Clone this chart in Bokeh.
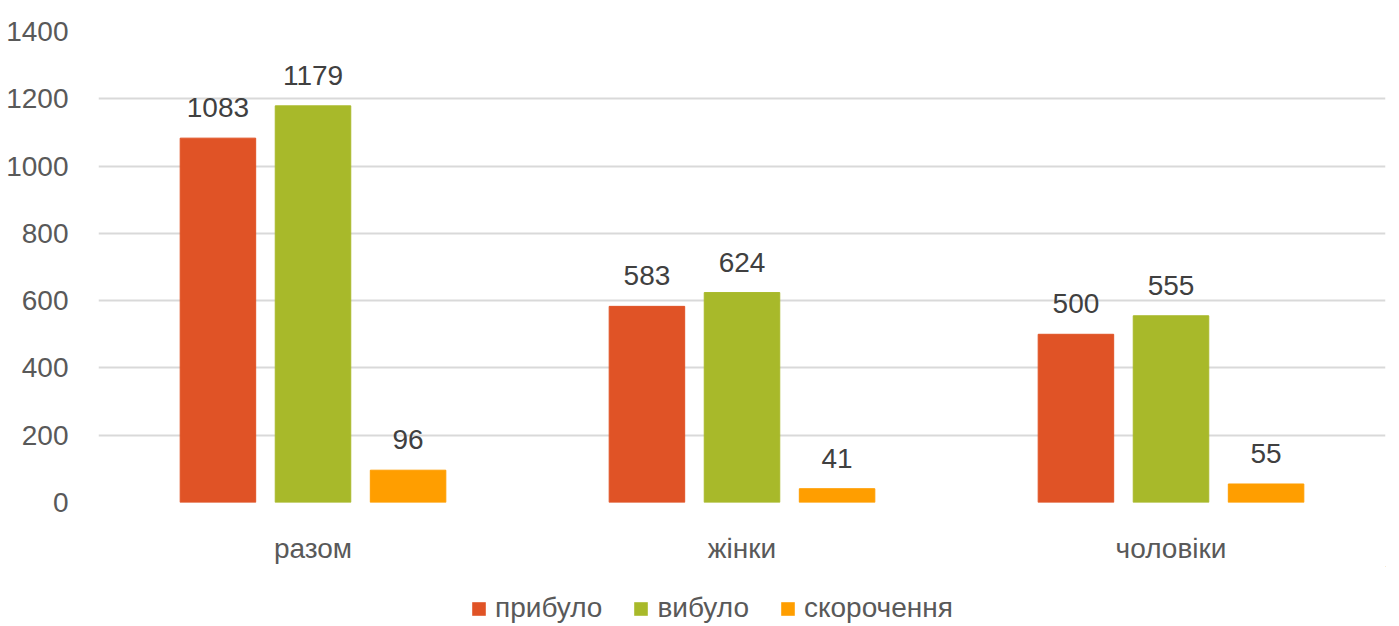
from bokeh.plotting import figure
from bokeh.layouts import column
from bokeh.models import ColumnDataSource, FactorRange, Range1d, Legend, LegendItem, SingleIntervalTicker
from bokeh.transform import dodge
from bokeh.core.properties import value
from bokeh.embed import file_html
from bokeh.resources import INLINE

categories = ["разом", "жінки", "чоловіки"]
series_names = ["прибуло", "вибуло", "скорочення"]
arrived = [1083, 583, 500]
left = [1179, 624, 555]
reduction = [96, 41, 55]
colors = ["#E05326", "#A8B92A", "#FF9E00"]

FONT = "Liberation Sans"
TXT = "#595959"
FS = "28px"

src = ColumnDataSource(dict(cat=categories, a=arrived, b=left, c=reduction,
                            la=[str(v) for v in arrived], lb=[str(v) for v in left],
                            lc=[str(v) for v in reduction]))

p = figure(x_range=FactorRange(*categories, range_padding=0), y_range=Range1d(0, 1400),
           width=1399, height=566, output_backend="svg", toolbar_location=None,
           min_border_left=98, min_border_right=14, min_border_top=31, min_border_bottom=64)
p.outline_line_color = None

for key, lab, off, col in [("a", "la", -0.2216, colors[0]), ("b", "lb", 0.0, colors[1]), ("c", "lc", 0.2216, colors[2])]:
    p.vbar(x=dodge("cat", off, range=p.x_range), top=key, width=0.176, source=src,
           fill_color=col, line_color=col)
    p.text(x=dodge("cat", off, range=p.x_range), y=key, text=lab, source=src,
           text_align="center", text_baseline="bottom", y_offset=-21,
           text_font=value(FONT), text_font_size=FS, text_color="#404040")

p.yaxis.ticker = SingleIntervalTicker(interval=200)
p.ygrid.grid_line_color = "#D9D9D9"
p.ygrid.grid_line_width = 2
p.xgrid.grid_line_color = None
for ax in (p.xaxis, p.yaxis):
    ax.axis_line_color = None
    ax.major_tick_line_color = None
    ax.minor_tick_line_color = None
    ax.major_tick_out = 0
    ax.major_tick_in = 0
    ax.major_label_text_font = FONT
    ax.major_label_text_font_size = FS
    ax.major_label_text_color = TXT
p.yaxis.major_label_standoff = 26
p.xaxis.major_label_standoff = 30

# legend strip below the chart
lf = figure(width=1399, height=60, output_backend="svg", toolbar_location=None,
            x_range=Range1d(0, 1), y_range=Range1d(0, 1),
            min_border_left=0, min_border_right=0, min_border_top=0, min_border_bottom=0)
lf.outline_line_color = None
lf.axis.visible = False
lf.grid.visible = False
lrs = [lf.vbar(x=[5], bottom=[5], top=[6], width=0.1, fill_color=c, line_color=None) for c in colors]
legend = Legend(items=[LegendItem(label=n, renderers=[r]) for n, r in zip(series_names, lrs)],
                orientation="horizontal", location=(372, 2),
                label_text_font=FONT, label_text_font_size=FS, label_text_color=TXT,
                glyph_width=17, glyph_height=17, spacing=30, label_standoff=8,
                border_line_color=None, background_fill_alpha=0, margin=0, padding=0)
lf.add_layout(legend)

open("out.html", "w").write(file_html(column(p, lf, spacing=0), INLINE))
